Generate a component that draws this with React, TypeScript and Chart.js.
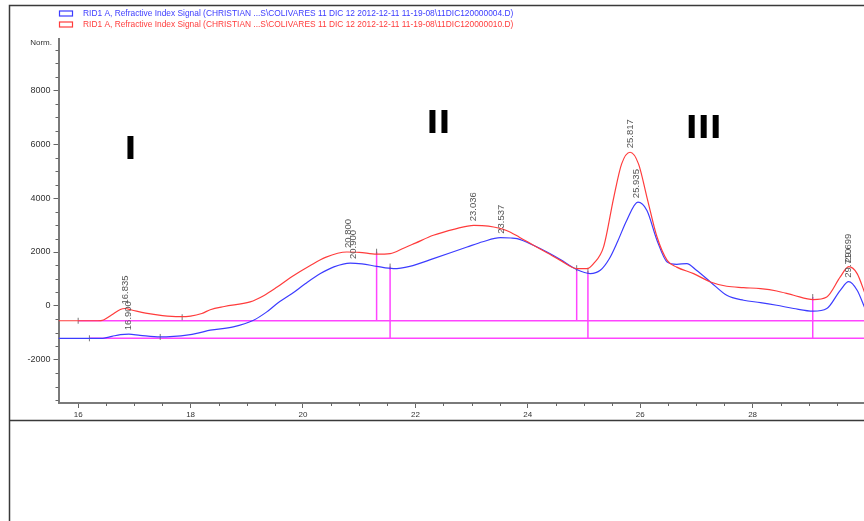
import React, { useEffect, useRef } from "react";
import { Chart, registerables } from "chart.js";

Chart.register(...registerables);

// ---- Data (retention time, min / signal, nRIU) ----
const redTime = [15.65, 16.0, 16.35, 16.45, 16.6, 16.75, 16.835, 16.95, 17.2, 17.5, 17.8, 18.0, 18.2, 18.35, 18.6, 19.06, 19.3, 19.54, 19.8, 20.13, 20.4, 20.78, 21.0, 21.31, 21.55, 21.8, 22.0, 22.32, 22.7, 23.04, 23.3, 23.62, 23.85, 24.1, 24.35, 24.58, 24.87, 25.05, 25.17, 25.35, 25.53, 25.67, 25.82, 25.97, 26.12, 26.3, 26.48, 26.65, 26.95, 27.25, 27.54, 27.84, 28.14, 28.43, 28.73, 29.08, 29.32, 29.56, 29.71, 29.86, 30.0];
const redSignal = [-550, -550, -550, -520, -330, -130, -96, -150, -270, -360, -400, -380, -280, -140, -20, 150, 380, 700, 1080, 1500, 1800, 2000, 1990, 1920, 1940, 2150, 2330, 2620, 2850, 2990, 2960, 2800, 2550, 2250, 1960, 1690, 1385, 1380, 1570, 2200, 4030, 5270, 5700, 5270, 4030, 2555, 1690, 1440, 1200, 890, 730, 680, 640, 555, 395, 237, 333, 1074, 1455, 1200, 460];

const blueTime = [15.65, 16.0, 16.44, 16.6, 16.75, 16.9, 17.1, 17.46, 17.7, 17.93, 18.15, 18.35, 18.76, 19.12, 19.35, 19.54, 19.8, 20.04, 20.31, 20.55, 20.84, 21.05, 21.31, 21.61, 21.9, 22.32, 22.92, 23.2, 23.51, 23.7, 23.81, 24.1, 24.35, 24.58, 24.87, 25.11, 25.29, 25.45, 25.6, 25.76, 25.96, 26.12, 26.3, 26.48, 26.65, 26.83, 27.0, 27.25, 27.54, 27.84, 28.14, 28.43, 28.73, 29.08, 29.32, 29.56, 29.71, 29.86, 30.0];
const blueSignal = [-1200, -1200, -1200, -1130, -1065, -1048, -1090, -1150, -1130, -1085, -1000, -900, -777, -530, -230, 90, 450, 820, 1200, 1450, 1590, 1560, 1470, 1385, 1470, 1755, 2185, 2380, 2530, 2520, 2495, 2250, 1990, 1720, 1350, 1200, 1320, 1750, 2400, 3170, 3850, 3540, 2430, 1630, 1545, 1570, 1320, 890, 395, 210, 125, 25, -96, -196, -96, 580, 900, 580, -96];

// integration baselines
const baselineStart = [16.0, 16.2];
const baselineEnd = [30.0, 30.0];
const baselineLevel = [-550, -1200];

// integration drop lines
const dropTime = [21.31, 21.55, 24.87, 25.07, 29.07];
const dropTop = [2010, 1460, 1400, 1300, 330];
const dropBottom = [-550, -1200, -550, -1200, -1200];

// small event ticks
const eventTime = [16.0, 17.85, 16.2, 17.46, 21.31, 21.55, 24.87, 25.07, 29.07];
const eventSignal = [-550, -420, -1200, -1150, 2010, 1460, 1400, 1300, 330];

// peak labels
const peakLabels = ["16.835", "16.900", "20.800", "20.900", "23.036", "23.537", "25.817", "25.935", "29.699", "29.710"];
const peakTime = [16.835, 16.9, 20.8, 20.9, 23.036, 23.537, 25.817, 25.935, 29.699, 29.71];
const peakSignal = [-96, -1048, 2000, 1590, 2990, 2530, 5700, 3850, 1455, 900];

// region numerals
const regionLabels = ["I", "II", "III"];
const regionTime = [16.93, 22.41, 27.13];
const regionSignal = [5445, 6408, 6223];

// axes
const xTickValues = [16, 16.5, 17, 17.5, 18, 18.5, 19, 19.5, 20, 20.5, 21, 21.5, 22, 22.5, 23, 23.5, 24, 24.5, 25, 25.5, 26, 26.5, 27, 27.5, 28, 28.5, 29, 29.5];
const yTickValues = [-3500, -3000, -2500, -2000, -1500, -1000, -500, 0, 500, 1000, 1500, 2000, 2500, 3000, 3500, 4000, 4500, 5000, 5500, 6000, 6500, 7000, 7500, 8000, 8500, 9000, 9500];

const legendLabels = [
  "RID1 A, Refractive Index Signal (CHRISTIAN ...S\\COLIVARES 11 DIC 12 2012-12-11 11-19-08\\11DIC120000004.D)",
  "RID1 A, Refractive Index Signal (CHRISTIAN ...S\\COLIVARES 11 DIC 12 2012-12-11 11-19-08\\11DIC120000010.D)",
];

const BLUE = "#3c3cff";
const RED = "#ff3c3c";
const MAGENTA = "#ff44ff";
const FONT = '"Liberation Sans", Arial, sans-serif';
const CANVAS_W = 870;

const isMajorX = (v: number) => Math.abs(v / 2 - Math.round(v / 2)) < 1e-9;
const isMajorY = (v: number) => Math.abs(v / 2000 - Math.round(v / 2000)) < 1e-9;

const decorPlugin = {
  id: "decor",
  beforeDraw(chart: any) {
    const ctx = chart.ctx;
    ctx.save();
    ctx.strokeStyle = "#3a3a3a";
    ctx.lineWidth = 1.5;
    ctx.beginPath();
    ctx.moveTo(9.5, 521);
    ctx.lineTo(9.5, 5.5);
    ctx.lineTo(CANVAS_W, 5.5);
    ctx.moveTo(9.5, 420.5);
    ctx.lineTo(CANVAS_W, 420.5);
    ctx.stroke();
    // legend
    const cols = [BLUE, RED];
    const ys = [13.5, 24.5];
    ctx.font = "8.4px " + FONT;
    ctx.textBaseline = "middle";
    ctx.textAlign = "left";
    legendLabels.forEach((t, i) => {
      ctx.strokeStyle = cols[i];
      ctx.lineWidth = 1.2;
      ctx.strokeRect(59.5, ys[i] - 2.5, 13, 5);
      ctx.fillStyle = cols[i];
      ctx.fillText(t, 83, ys[i]);
    });
    // Norm.
    ctx.fillStyle = "#333";
    ctx.textAlign = "right";
    ctx.font = "8px " + FONT;
    ctx.fillText("Norm.", 52, 43);
    ctx.restore();
  },
  afterDraw(chart: any) {
    const ctx = chart.ctx;
    const xs = chart.scales.x;
    const ys = chart.scales.y;
    const area = chart.chartArea;
    ctx.save();
    // minor ticks
    ctx.strokeStyle = "#666";
    ctx.lineWidth = 1;
    ctx.beginPath();
    xTickValues.forEach((v) => {
      if (isMajorX(v)) return;
      const px = Math.round(xs.getPixelForValue(v)) + 0.5;
      ctx.moveTo(px, area.bottom);
      ctx.lineTo(px, area.bottom + 3);
    });
    yTickValues.forEach((v) => {
      if (isMajorY(v)) return;
      const py = Math.round(ys.getPixelForValue(v)) + 0.5;
      ctx.moveTo(area.left, py);
      ctx.lineTo(area.left - 3, py);
    });
    ctx.stroke();
    // peak labels
    ctx.font = "9.5px " + FONT;
    ctx.fillStyle = "#555";
    ctx.textAlign = "left";
    ctx.textBaseline = "middle";
    peakLabels.forEach((t, i) => {
      const px = xs.getPixelForValue(peakTime[i]);
      const py = ys.getPixelForValue(peakSignal[i]);
      ctx.save();
      ctx.translate(px, py - 4);
      ctx.rotate(-Math.PI / 2);
      ctx.fillText(t, 0, 0);
      ctx.restore();
    });
    // region numerals
    ctx.font = 'bold 32px "DejaVu Sans", sans-serif';
    ctx.fillStyle = "#000";
    ctx.textAlign = "center";
    ctx.textBaseline = "alphabetic";
    regionLabels.forEach((t, i) => {
      ctx.fillText(t, xs.getPixelForValue(regionTime[i]), ys.getPixelForValue(regionSignal[i]));
    });
    ctx.restore();
  },
};

function buildSegments(xStart: number[], xEnd: number[], yStart: number[], yEnd: number[]) {
  const pts: any[] = [];
  xStart.forEach((x, i) => {
    pts.push({ x, y: yStart[i] });
    pts.push({ x: xEnd[i], y: yEnd[i] });
    pts.push({ x: xEnd[i], y: null });
  });
  return pts;
}

export default function App() {
  const ref = useRef<HTMLCanvasElement | null>(null);
  useEffect(() => {
    if (!ref.current) return;
    const chart = new Chart(ref.current, {
      type: "line",
      data: {
        datasets: [
          {
            label: "red",
            data: redTime.map((x, i) => ({ x, y: redSignal[i] })),
            borderColor: RED,
            borderWidth: 1.2,
            pointRadius: 0,
            cubicInterpolationMode: "monotone",
            order: 0,
          },
          {
            label: "blue",
            data: blueTime.map((x, i) => ({ x, y: blueSignal[i] })),
            borderColor: BLUE,
            borderWidth: 1.2,
            pointRadius: 0,
            cubicInterpolationMode: "monotone",
            order: 1,
          },
          {
            label: "baselines",
            data: buildSegments(baselineStart, baselineEnd, baselineLevel, baselineLevel),
            borderColor: MAGENTA,
            borderWidth: 1.5,
            pointRadius: 0,
            spanGaps: false,
            order: 3,
          },
          {
            label: "drops",
            data: buildSegments(dropTime, dropTime, dropTop, dropBottom),
            borderColor: MAGENTA,
            borderWidth: 1.5,
            pointRadius: 0,
            spanGaps: false,
            order: 3,
          },
          {
            type: "scatter",
            label: "events",
            data: eventTime.map((x, i) => ({ x, y: eventSignal[i] })),
            pointStyle: "line",
            rotation: 90,
            radius: 3,
            borderColor: "#777",
            borderWidth: 1,
            backgroundColor: "#777",
            order: 2,
          } as any,
        ],
      },
      options: {
        animation: false,
        responsive: false,
        events: [],
        layout: { padding: { left: 0, right: 0, top: 39, bottom: 93 } },
        plugins: { legend: { display: false }, tooltip: { enabled: false } },
        scales: {
          x: {
            type: "linear",
            min: 15.65,
            max: 30,
            afterBuildTicks: (scale: any) => {
              scale.ticks = xTickValues.map((v) => ({ value: v }));
            },
            afterFit: (scale: any) => {
              scale.height = 25;
            },
            grid: {
              drawOnChartArea: false,
              drawTicks: true,
              tickLength: 5,
              tickColor: (c: any) => (c.tick && isMajorX(c.tick.value) ? "#666" : "rgba(0,0,0,0)"),
            },
            border: { display: true, color: "#7a7a7a", width: 2 },
            ticks: {
              autoSkip: false,
              maxRotation: 0,
              padding: 2,
              color: "#333",
              font: { size: 8, family: FONT },
              callback: (v: any) => (isMajorX(Number(v)) ? String(Math.round(Number(v))) : ""),
            },
          },
          y: {
            type: "linear",
            min: -3600,
            max: 9900,
            afterBuildTicks: (scale: any) => {
              scale.ticks = yTickValues.map((v) => ({ value: v }));
            },
            afterFit: (scale: any) => {
              scale.width = 58.5;
            },
            grid: {
              drawOnChartArea: false,
              drawTicks: true,
              tickLength: 5,
              tickColor: (c: any) => (c.tick && isMajorY(c.tick.value) ? "#666" : "rgba(0,0,0,0)"),
            },
            border: { display: true, color: "#7a7a7a", width: 2 },
            ticks: {
              autoSkip: false,
              padding: 3,
              color: "#333",
              font: { size: 9, family: FONT },
              callback: (v: any) => (isMajorY(Number(v)) ? String(Math.round(Number(v))) : ""),
            },
          },
        },
      },
      plugins: [decorPlugin],
    } as any);
    return () => chart.destroy();
  }, []);
  return (
    <div style={{ position: "fixed", left: 0, top: 0, width: 864, height: 521, overflow: "hidden", background: "#fff" }}>
      <canvas ref={ref} width={CANVAS_W} height={521} style={{ width: CANVAS_W, height: 521, display: "block" }} />
    </div>
  );
}
